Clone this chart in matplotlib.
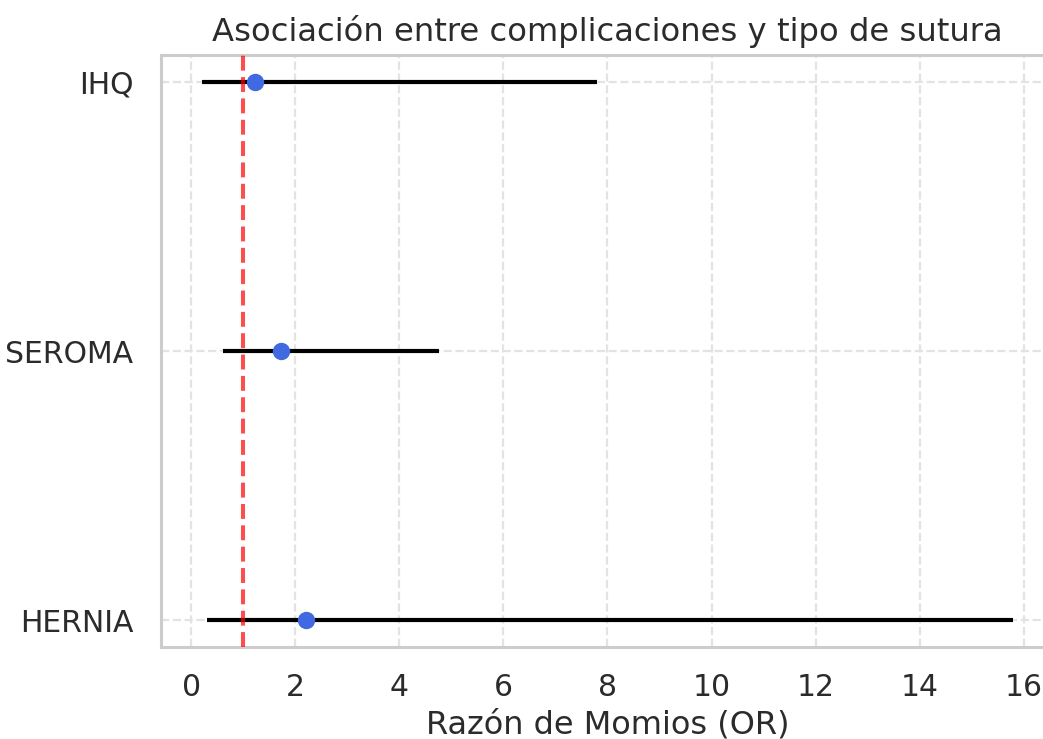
import numpy as np
import matplotlib.pyplot as plt
import seaborn as sns

sns.set_theme(style="whitegrid")
plt.rcParams['font.family'] = ['DejaVu Sans']

# Razón de momios e intervalos de confianza por complicación
complicaciones = ['HERNIA', 'SEROMA', 'IHQ']
odds_ratio = [2.2, 1.72, 1.23]
ic_inferior = [0.30, 0.62, 0.20]
ic_superior = [15.8, 4.77, 7.79]

fig = plt.figure(figsize=(10.43, 7.39), dpi=100)
ax = fig.add_axes([0.1544, 0.1245, 0.856, 0.801])

y = np.arange(len(complicaciones))
ax.hlines(y, ic_inferior, ic_superior, color='black', linewidth=3, zorder=3)
ax.plot(odds_ratio, y, 'o', color='royalblue', markersize=11.5, zorder=4)
ax.axvline(1, color='red', linestyle='--', linewidth=2.9, alpha=0.7, zorder=5)

ax.set_yticks(y)
ax.set_yticklabels(complicaciones)
ax.set_xticks(np.arange(0, 17, 2))
ax.tick_params(axis='x', labelsize=21.5, pad=13, colors='#2b2b2b')
ax.tick_params(axis='y', labelsize=21.5, pad=14, colors='#2b2b2b')
ax.grid(True, linestyle='--', linewidth=1.6, color='#e3e3e3')
for s in ax.spines.values():
    s.set_color('#cccccc')
    s.set_linewidth(2.2)

ax.set_xlabel('Razón de Momios (OR)', fontsize=23, color='#2b2b2b', labelpad=5)
ax.set_title('Asociación entre complicaciones y tipo de sutura', fontsize=23.2,
             color='#2b2b2b', pad=10)

plt.savefig('out.png', dpi=100)
